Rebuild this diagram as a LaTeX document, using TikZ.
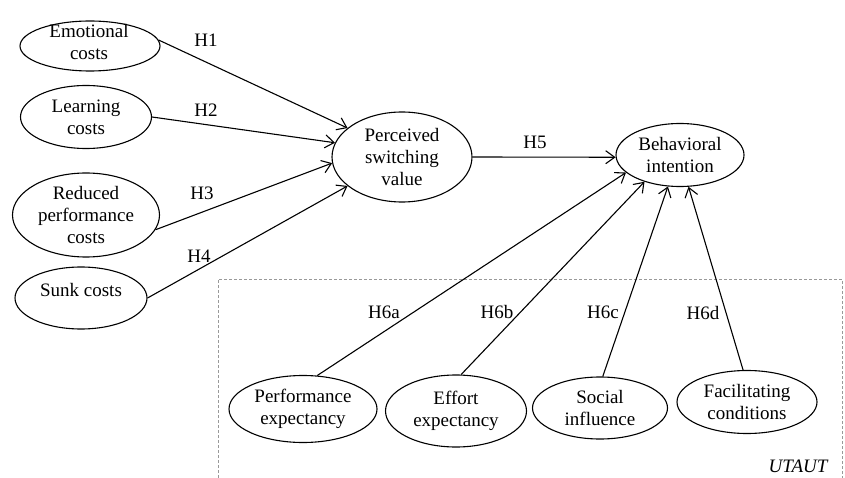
\documentclass[tikz,border=0pt]{standalone}
\usepackage{fontspec}
\setmainfont{Liberation Serif}
\usetikzlibrary{arrows.meta,shapes.geometric}
\begin{document}
\begin{tikzpicture}[x=1pt,y=-1pt,
  lat/.style={draw, ellipse, line width=1.1pt, inner sep=0pt, align=center,
    font=\fontsize{19}{22}\selectfont},
  txt/.style={inner sep=0pt, align=center, font=\fontsize{19}{22}\selectfont},
  lbl/.style={inner sep=0pt, font=\fontsize{19}{22}\selectfont},
  hyp/.style={line width=1.1pt, -{Straight Barb[length=9pt,width=13pt,line width=1.1pt]}},
  frame/.style={draw=black!40, line width=0.8pt, dash pattern=on 3pt off 2pt}]
\useasboundingbox (0,0) rectangle (845,478);

% UTAUT frame
\draw[frame] (218,478) -- (218,279) -- (842,279) -- (842,478);
\node[lbl, font=\fontsize{19}{22}\selectfont\itshape] (utaut) at (798,466) {UTAUT};

% left constructs
\node[lat, minimum width=140pt, minimum height=50pt] (emo) at (90,46) {};
\node[txt] (emot) at (89,42) {Emotional\\costs};
\node[lat, minimum width=131pt, minimum height=63pt] (lea) at (86,117) {Learning\\costs};
\node[lat, minimum width=147pt, minimum height=84pt] (red) at (86,215) {Reduced\\performance\\costs};
\node[lat, minimum width=132pt, minimum height=62pt] (sun) at (81,298) {};
\node[txt] (sunt) at (81,290) {Sunk costs};

% central constructs
\node[lat, minimum width=140pt, minimum height=90pt] (psv) at (402,157) {Perceived\\switching\\value};
\node[lat, minimum width=128pt, minimum height=63pt] (bi) at (680,155) {Behavioral\\intention};

% UTAUT constructs
\node[lat, minimum width=148pt, minimum height=67pt] (pe) at (303,409) {Performance\\expectancy};
\node[lat, minimum width=141pt, minimum height=72pt] (ee) at (456,411) {Effort\\expectancy};
\node[lat, minimum width=135pt, minimum height=62pt] (si) at (600,408) {Social\\influence};
\node[lat, minimum width=140pt, minimum height=63pt] (fc) at (747,402) {Facilitating\\conditions};

% hypotheses
\draw[hyp] (emo.5) -- (psv.152);
\draw[hyp] (lea.0) -- (psv.168);
\draw[hyp] (red.-12) -- (psv.185);
\draw[hyp] (sun.0) -- (psv.208);
\draw[hyp] (psv.0) -- (bi.182);
\draw[hyp] (pe.67) -- (bi.198);
\draw[hyp] (ee.82) -- (bi.217);
\draw[hyp] (si.85) -- (bi.249);
\draw[hyp] (fc.97) -- (bi.285);

\node[lbl] (h1) at (206,40) {H1};
\node[lbl] (h2) at (206,110) {H2};
\node[lbl] (h3) at (202,193) {H3};
\node[lbl] (h4) at (199,256) {H4};
\node[lbl] (h5) at (535,142) {H5};
\node[lbl] (h6a) at (384,312) {H6a};
\node[lbl] (h6b) at (497,312) {H6b};
\node[lbl] (h6c) at (603,312) {H6c};
\node[lbl] (h6d) at (703,313) {H6d};
\end{tikzpicture}
\end{document}
